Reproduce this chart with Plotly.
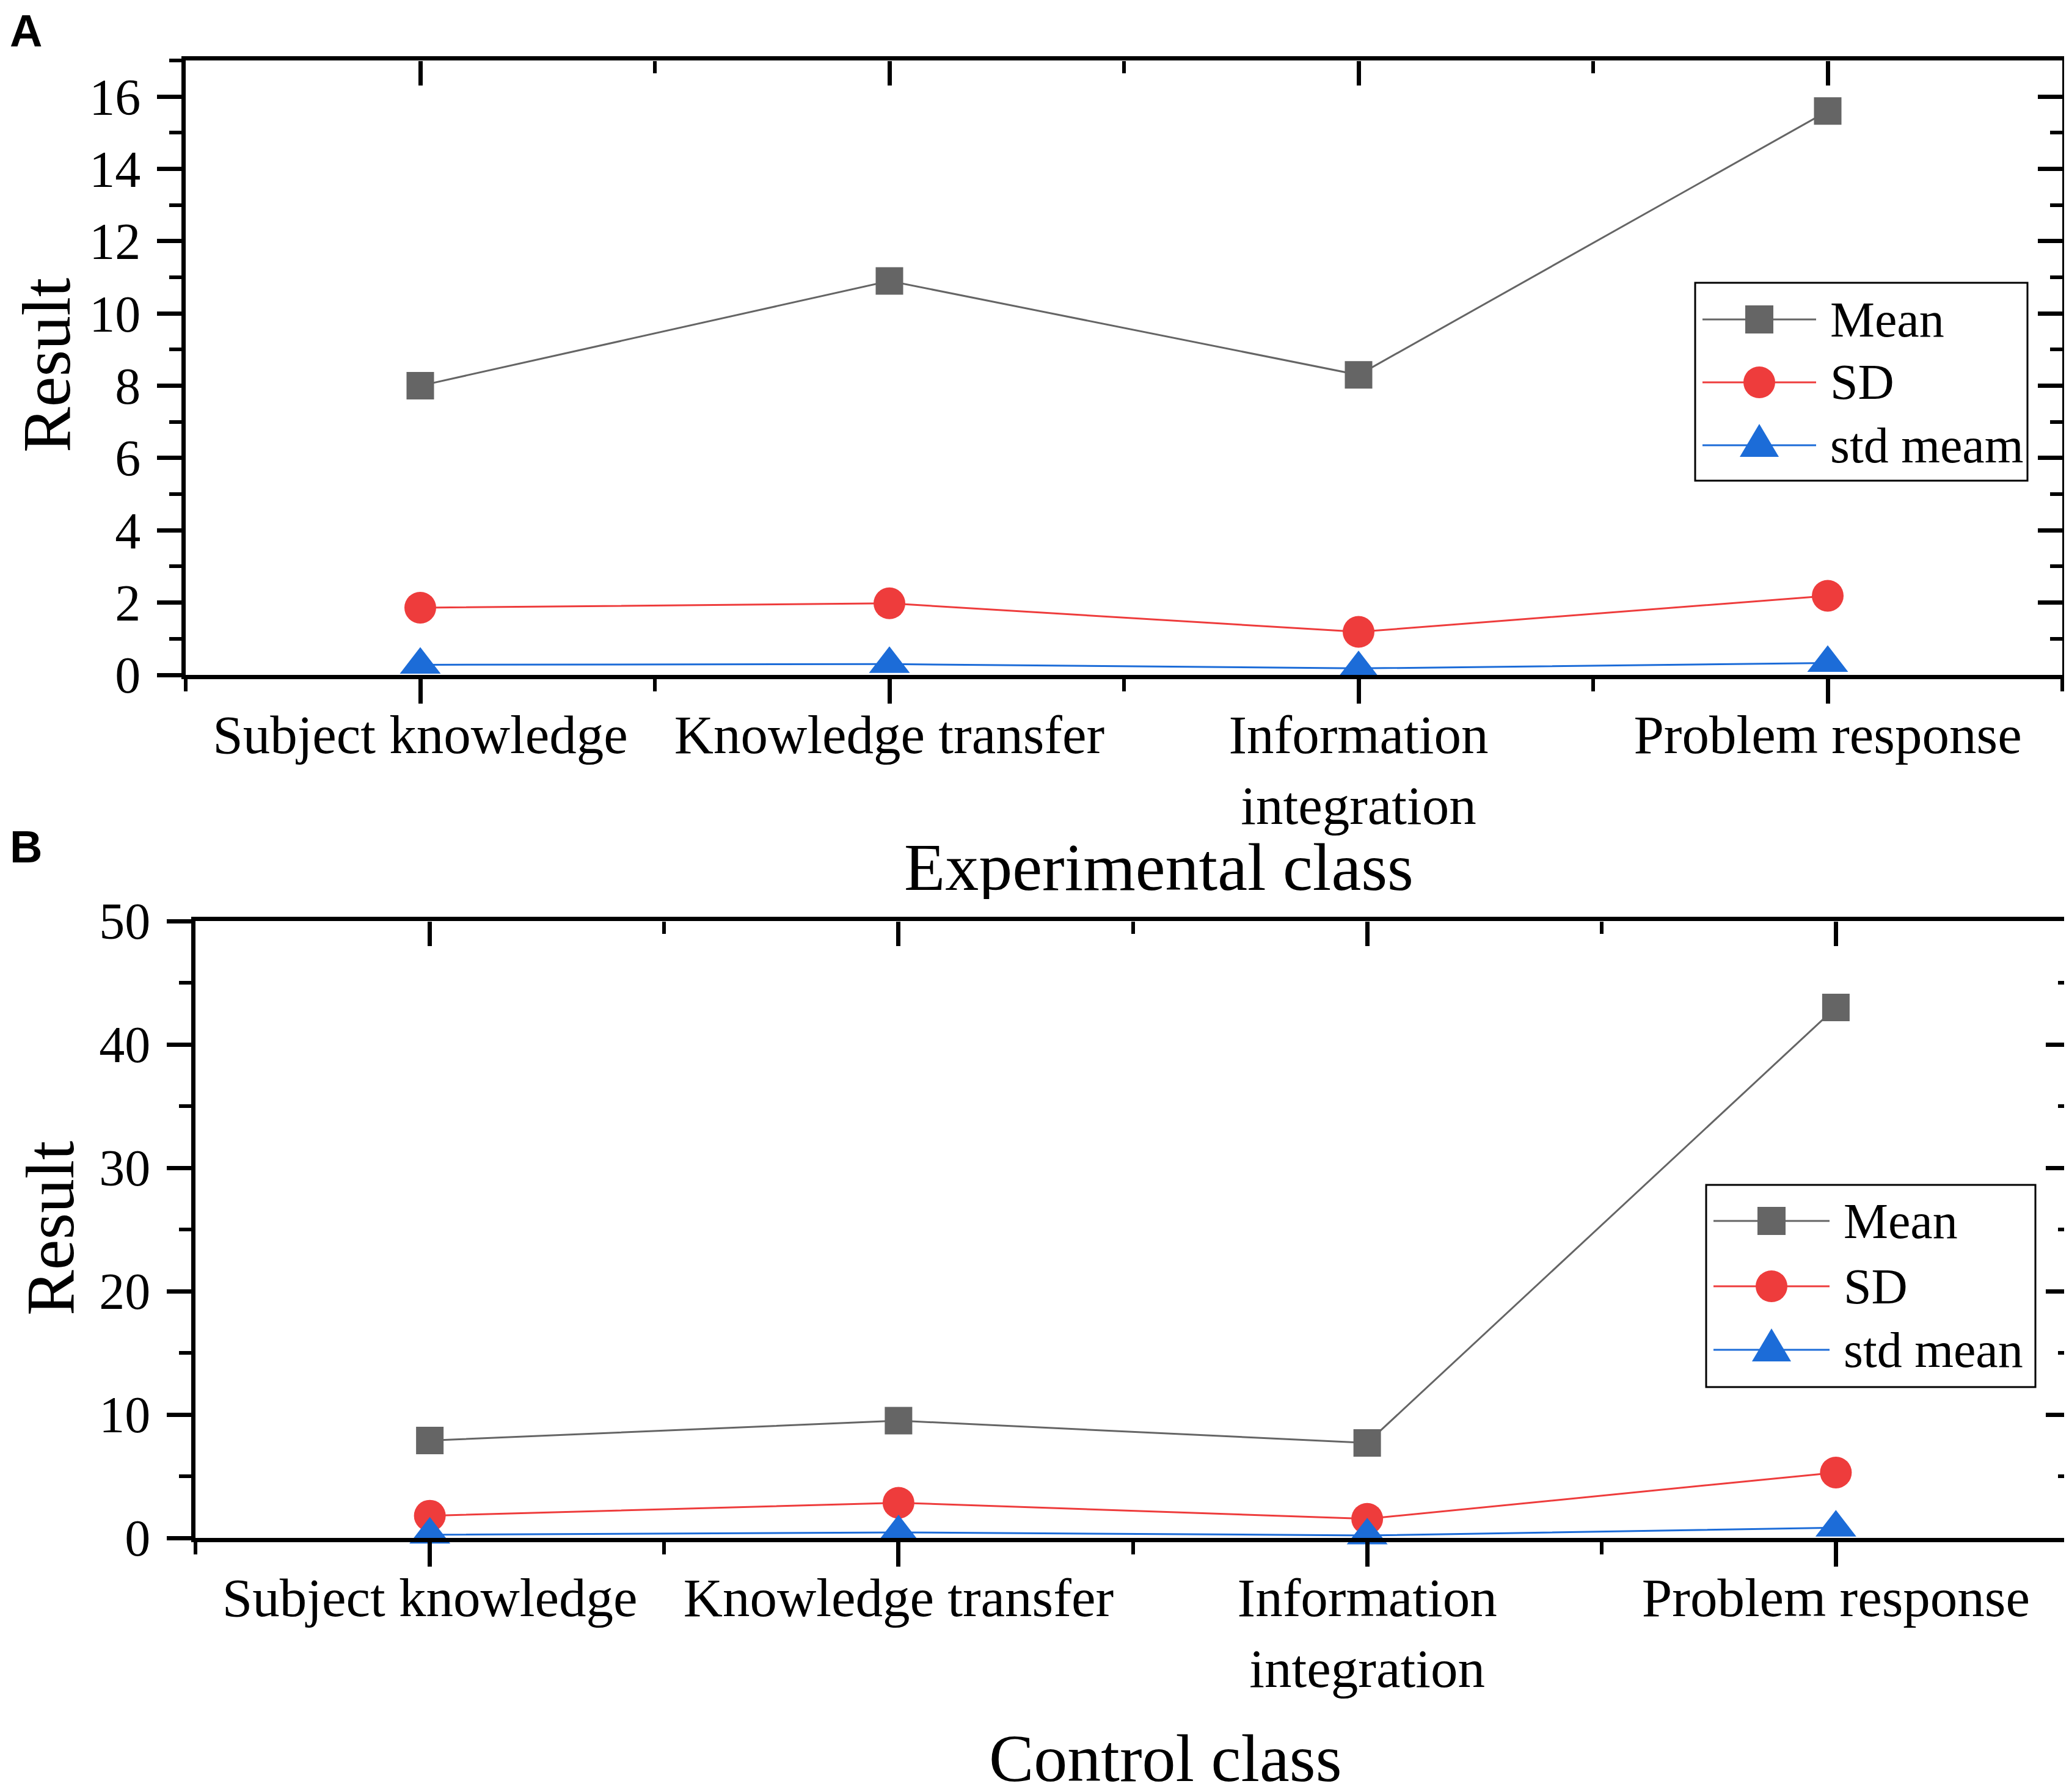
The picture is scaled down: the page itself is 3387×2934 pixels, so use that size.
import plotly.graph_objects as go

W, H = 3387, 2934

categories = ["Subject knowledge", "Knowledge transfer", "Information<br>integration", "Problem response"]

# panel A - experimental class
exp_mean = [8.0, 10.9, 8.3, 15.6]
exp_sd = [1.86, 1.98, 1.19, 2.19]
exp_std_mean = [0.28, 0.30, 0.18, 0.33]

# panel B - control class
ctl_mean = [7.9, 9.5, 7.7, 43.0]
ctl_sd = [1.8, 2.85, 1.55, 5.3]
ctl_std_mean = [0.26, 0.45, 0.2, 0.83]

GRAY, RED, BLUE = "#656565", "#EE3C3C", "#1C6CD8"
SERIF = "Liberation Serif"

series_style = [
    ("Mean", GRAY, "square", 45),
    ("SD", RED, "circle", 52),
    ("std", BLUE, "triangle-up", 58),
]


def X(px):
    return px / W


def Y(py):
    return 1 - py / H


idx = list(range(len(categories)))
minor_x = [i - 0.5 for i in range(len(categories) + 1)]

fig = go.Figure()

panels = [
    ("x", "y", [exp_mean, exp_sd, exp_std_mean]),
    ("x2", "y2", [ctl_mean, ctl_sd, ctl_std_mean]),
]
for xa, ya, values in panels:
    for (name, color, symbol, size), vals in zip(series_style, values):
        fig.add_trace(go.Scatter(
            x=idx, y=vals, name=name, xaxis=xa, yaxis=ya,
            mode="lines+markers", cliponaxis=False, showlegend=False,
            line=dict(color=color, width=3),
            marker=dict(symbol=symbol, size=size, color=color, line=dict(width=0)),
        ))

# empty traces so the top/right axes with inward ticks get drawn
for xa, ya in [("x3", "y3"), ("x4", "y4")]:
    fig.add_trace(go.Scatter(x=[], y=[], xaxis=xa, yaxis=ya, showlegend=False,
                             hoverinfo="skip"))


def main_xaxis(domain, anchor):
    return dict(
        domain=domain, anchor=anchor, range=[-0.5, 3.5], automargin=False,
        tickmode="array", tickvals=idx, ticktext=categories,
        ticks="outside", ticklen=40, tickwidth=7, tickcolor="black",
        minor=dict(tickmode="array", tickvals=minor_x, ticks="outside",
                   ticklen=20, tickwidth=6, tickcolor="black"),
        showline=True, linewidth=7, linecolor="black", mirror=True,
        showgrid=False, zeroline=False, ticklabelstandoff=-26,
        tickfont=dict(family=SERIF, size=89, color="black"),
    )


def top_xaxis(domain, pos):
    return dict(
        domain=domain, anchor="free", position=pos, side="top",
        range=[-0.5, 3.5], automargin=False,
        tickmode="array", tickvals=idx, ticks="inside", ticklen=40,
        tickwidth=7, tickcolor="black",
        minor=dict(tickmode="array", tickvals=minor_x, ticks="inside",
                   ticklen=20, tickwidth=6, tickcolor="black"),
        showticklabels=False, showline=False, showgrid=False, zeroline=False,
    )


def main_yaxis(domain, anchor, top, major, minor):
    return dict(
        domain=domain, anchor=anchor, range=[0, top], automargin=False,
        tick0=0, dtick=major, ticks="outside", ticklen=40, tickwidth=7,
        tickcolor="black",
        minor=dict(tick0=0, dtick=minor, ticks="outside", ticklen=20,
                   tickwidth=6, tickcolor="black"),
        showline=True, linewidth=7, linecolor="black", mirror=True,
        showgrid=False, zeroline=False, ticklabelstandoff=10,
        tickfont=dict(family=SERIF, size=84, color="black"),
    )


def right_yaxis(domain, pos, top, major, minor):
    return dict(
        domain=domain, anchor="free", position=pos, side="right",
        range=[0, top], automargin=False,
        tick0=0, dtick=major, ticks="inside", ticklen=40, tickwidth=7,
        tickcolor="black",
        minor=dict(tick0=0, dtick=minor, ticks="inside", ticklen=20,
                   tickwidth=6, tickcolor="black"),
        showticklabels=False, showline=False, showgrid=False, zeroline=False,
    )


dom_ax = [X(296), X(3368)]
dom_ay = [Y(1097), Y(91)]
dom_bx = [X(312), X(3381)]
dom_by = [Y(2510), Y(1500)]

fig.update_layout(
    width=W, height=H, autosize=False,
    margin=dict(l=0, r=0, t=0, b=0, pad=0),
    paper_bgcolor="white", plot_bgcolor="rgba(0,0,0,0)",
    showlegend=False,
    xaxis=main_xaxis(dom_ax, "y"),
    yaxis=main_yaxis(dom_ay, "x", 17, 2, 1),
    xaxis2=main_xaxis(dom_bx, "y2"),
    yaxis2=main_yaxis(dom_by, "x2", 50, 10, 5),
    xaxis3=top_xaxis(dom_ax, dom_ay[1]),
    yaxis3=right_yaxis(dom_ay, dom_ax[1], 17, 2, 1),
    xaxis4=top_xaxis(dom_bx, dom_by[1]),
    yaxis4=right_yaxis(dom_by, dom_bx[1], 50, 10, 5),
)

# titles and panel letters: (text, x, y, angle, family, size, bold, xanchor, yanchor, box height)
texts = [
    ("A", 6, 42, 0, "Liberation Sans", 74, True, "left", "middle", 78),
    ("B", 6, 1378, 0, "Liberation Sans", 74, True, "left", "middle", 78),
    ("Result", 68, 590, -90, SERIF, 112, False, "center", "middle", 100),
    ("Result", 74, 2003, -90, SERIF, 112, False, "center", "middle", 100),
    ("Experimental class", 1889, 1412, 0, SERIF, 110, False, "center", "middle", 104),
    ("Control class", 1899, 2934, 0, SERIF, 110, False, "center", "bottom", None),
]
for txt, px, py, ang, fam, size, bold, xanc, yanc, hgt in texts:
    fig.add_annotation(
        text=f"<b>{txt}</b>" if bold else txt,
        x=X(px), y=Y(py), xref="paper", yref="paper",
        xanchor=xanc, yanchor=yanc, textangle=ang, showarrow=False,
        height=hgt,
        font=dict(family=fam, size=size, color="black"),
    )


def draw_legend(box, rows, line_x, mark_x, text_x, labels):
    x0, y0, x1, y1 = box
    fig.add_shape(type="rect", xref="paper", yref="paper",
                  x0=X(x0), x1=X(x1), y0=Y(y0), y1=Y(y1),
                  line=dict(color="black", width=3), fillcolor="white", layer="above")
    for (name, color, symbol, size), ry, label in zip(series_style, rows, labels):
        fig.add_shape(type="line", xref="paper", yref="paper",
                      x0=X(line_x[0]), x1=X(line_x[1]), y0=Y(ry), y1=Y(ry),
                      line=dict(color=color, width=3), layer="above")
        if symbol == "square":
            h = 23
            fig.add_shape(type="rect", xref="paper", yref="paper",
                          x0=X(mark_x - h), x1=X(mark_x + h), y0=Y(ry - h), y1=Y(ry + h),
                          line=dict(width=0), fillcolor=color, layer="above")
        elif symbol == "circle":
            fig.add_shape(type="circle", xref="paper", yref="paper",
                          x0=X(mark_x - 26), x1=X(mark_x + 26), y0=Y(ry - 26), y1=Y(ry + 26),
                          line=dict(width=0), fillcolor=color, layer="above")
        else:
            path = (f"M {X(mark_x - 32)},{Y(ry + 19)} L {X(mark_x + 32)},{Y(ry + 19)} "
                    f"L {X(mark_x)},{Y(ry - 35)} Z")
            fig.add_shape(type="path", xref="paper", yref="paper", path=path,
                          line=dict(width=0), fillcolor=color, layer="above")
        fig.add_annotation(text=label, x=X(text_x), y=Y(ry), xref="paper", yref="paper",
                           xanchor="left", yanchor="middle", showarrow=False,
                           font=dict(family=SERIF, size=82, color="black"))


draw_legend((2767, 455, 3311, 779), [515, 618, 721], (2779, 2965), 2872, 2986,
            ["Mean", "SD", "std meam"])
draw_legend((2785, 1932, 3324, 2263), [1991, 2098, 2202], (2797, 2987), 2892, 3008,
            ["Mean", "SD", "std mean"])

fig.write_html("out.html")
